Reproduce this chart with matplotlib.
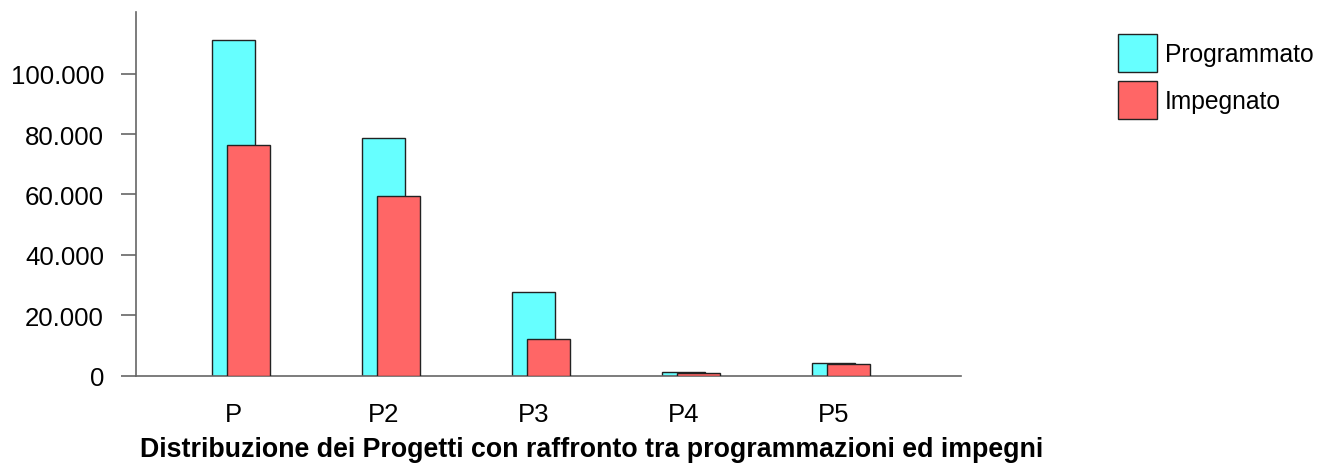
import matplotlib
matplotlib.use("Agg")
import matplotlib.pyplot as plt
from matplotlib.ticker import FuncFormatter

categories = ["P", "P2", "P3", "P4", "P5"]
programmato = [111200, 78600, 27600, 1100, 4100]
impegnato = [76400, 59500, 12000, 800, 3900]
yticks = [0, 20000, 40000, 60000, 80000, 100000]
title = "Distribuzione dei Progetti con raffronto tra programmazioni ed impegni"

plt.rcParams['font.family'] = ['Liberation Sans', 'DejaVu Sans']

W, H = 1327, 464
fig = plt.figure(figsize=(W / 100, H / 100), dpi=100)
ax = fig.add_axes([136 / W, (H - 376.7) / H, (960.7 - 136) / W, 363.4 / H])

x = list(range(len(categories)))
bw = 0.2867
off = 0.1
b1 = ax.bar(x, programmato, width=bw, color="#66FFFF", edgecolor="#222222",
            linewidth=1.0, label="Programmato", zorder=2)
b2 = ax.bar([i + off for i in x], impegnato, width=bw, color="#FF6666",
            edgecolor="#222222", linewidth=1.0, label="Impegnato", zorder=3)

ax.set_xlim(-0.648, 4.85)
ax.set_ylim(0, 120331)
ax.set_yticks(yticks)
ax.yaxis.set_major_formatter(FuncFormatter(lambda v, p: f"{int(v):,}".replace(",", ".")))
ax.set_xticks(x)
ax.set_xticklabels(categories)

for s in ["top", "right"]:
    ax.spines[s].set_visible(False)
for s in ["left", "bottom"]:
    ax.spines[s].set_color("#666666")
    ax.spines[s].set_linewidth(1.2)

ax.tick_params(axis="y", length=11, width=1.2, color="#666666", pad=12,
               labelsize=18.6, labelcolor="#000000")
ax.tick_params(axis="x", length=0, pad=19, labelsize=18.5, labelcolor="#000000")

fig.text(140 / W, (H - 457) / H, title, fontsize=19.3, fontweight="bold",
         ha="left", va="baseline")

fs = 17.7
fspx = fs * 100 / 72
fig.legend(handles=[b1, b2], labels=["Programmato", "Impegnato"],
           loc="upper left", bbox_to_anchor=(1118 / W, (H - 35) / H),
           frameon=False, fontsize=fs, borderpad=0, borderaxespad=0,
           handlelength=39 / fspx, handleheight=2.0,
           handletextpad=8 / fspx, labelspacing=9 / fspx)

fig.savefig("out.png", dpi=100)
